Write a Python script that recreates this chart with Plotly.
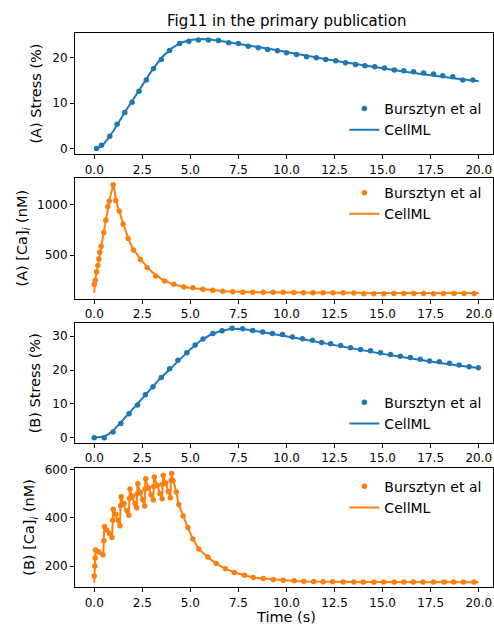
import plotly.graph_objects as go

# ---------------- data ----------------
# (A) Stress
a_stress_dot_t = [0.12, 0.38, 0.81, 1.19, 1.59, 1.97, 2.33, 2.71, 3.09, 3.49, 3.92, 4.44, 4.92, 5.42,
                  5.94, 6.46, 6.99, 7.50, 8.01, 8.53, 9.02, 9.53, 10.0, 10.52, 11.04, 11.55, 12.04,
                  12.56, 13.07, 13.59, 14.08, 14.59, 15.09, 15.61, 16.1, 16.61, 17.13, 17.65, 18.13,
                  18.65, 19.17, 19.69]
a_stress_dot_v = [0.0, 0.7, 2.7, 5.3, 7.9, 10.2, 12.6, 15.1, 17.6, 19.6, 21.6, 23.1, 23.6, 23.9,
                  23.9, 23.8, 23.3, 23.1, 22.5, 22.2, 21.8, 21.5, 21.1, 20.7, 20.2, 20.0, 19.6,
                  19.3, 18.9, 18.5, 18.2, 18.0, 17.7, 17.3, 17.1, 16.9, 16.6, 16.4, 16.0,
                  15.8, 15.1, 15.1]
a_stress_line_t = [0, 0.25, 0.5, 0.75, 1, 1.25, 1.5, 1.75, 2, 2.5, 3, 3.5, 4, 4.5, 5, 5.5, 6, 6.5, 7,
                   8, 9, 10, 11, 12, 13, 14, 15, 16, 17, 18, 19, 20]
a_stress_line_v = [0, 0.2, 1.0, 2.3, 3.9, 5.7, 7.4, 9.0, 10.6, 13.9, 17.2, 20.0, 22.0, 23.3, 23.9,
                   24.1, 24.0, 23.7, 23.4, 22.7, 22.0, 21.2, 20.4, 19.7, 19.0, 18.3, 17.6, 17.0,
                   16.4, 15.8, 15.3, 14.8]

# (A) [Ca]i
a_ca_dot_t = [0.0, 0.05, 0.12, 0.19, 0.24, 0.29, 0.36, 0.50, 0.60, 0.71, 0.78, 0.98, 1.12, 1.30, 1.50,
              1.76, 2.04, 2.40, 2.76, 3.20, 3.66, 4.14, 4.66, 5.13, 5.65, 6.16, 6.68, 7.20, 7.72,
              8.24, 8.79, 9.31, 9.84, 10.39, 10.88, 11.38, 11.9, 12.43, 12.95, 13.5, 14.02, 14.54,
              15.06, 15.58, 16.1, 16.62, 17.13, 17.65, 18.17, 18.72, 19.24, 19.76]
a_ca_dot_v = [211, 253, 335, 399, 464, 529, 588, 724, 844, 980, 1032, 1195, 1039, 935, 805,
              666, 552, 458, 377, 296, 247, 214, 188, 179, 166, 156, 146, 140, 136,
              136, 136, 136, 136, 133, 130, 130, 130, 130, 130, 127, 120, 120,
              120, 123, 123, 123, 123, 120, 123, 123, 123, 123]
a_ca_line_t = [0, 0.05, 0.2, 0.4, 0.6, 0.8, 1.0, 1.1, 1.25, 1.5, 1.75, 2.0, 2.5, 3.0, 3.5, 4.0, 4.5,
               5.0, 6.0, 7.0, 8.0, 10, 12, 15, 20]
a_ca_line_v = [130, 250, 410, 620, 830, 1050, 1205, 1080, 960, 810, 675, 565, 440, 335, 265, 220,
               195, 178, 158, 144, 137, 133, 130, 128, 127]

# (B) Stress
b_stress_dot_t = [0.0, 0.52, 0.98, 1.38, 1.81, 2.25, 2.66, 3.06, 3.49, 3.92, 4.35, 4.82, 5.25, 5.66,
                  6.17, 6.65, 7.17, 7.72, 8.24, 8.76, 9.27, 9.79, 10.31, 10.83, 11.35, 11.83, 12.3,
                  12.82, 13.33, 13.85, 14.37, 14.89, 15.41, 15.92, 16.44, 16.96, 17.44, 17.95,
                  18.48, 18.98, 19.5, 19.98]
b_stress_dot_v = [0.0, 0.0, 1.75, 4.2, 7.1, 9.7, 12.7, 15.1, 17.8, 20.4, 22.9, 25.1, 27.4, 29.2,
                  30.8, 31.6, 32.4, 32.2, 31.7, 31.3, 30.8, 30.5, 29.8, 29.3, 28.8, 28.2, 27.8,
                  27.3, 26.6, 26.1, 25.7, 25.1, 24.6, 24.1, 23.7, 23.2, 22.7, 22.5,
                  22.0, 21.5, 21.0, 20.7]
b_stress_line_t = [0, 0.25, 0.5, 0.75, 1, 1.5, 2, 2.5, 3, 3.5, 4, 4.5, 5, 5.5, 6, 6.5, 7, 7.5, 8, 9,
                   10, 11, 12, 13, 14, 15, 16, 17, 18, 19, 20]
b_stress_line_v = [0, 0.1, 0.4, 1.1, 2.2, 5.3, 8.5, 11.9, 15.0, 18.0, 20.6, 23.4, 26.2, 28.6, 30.3,
                   31.4, 32.1, 32.2, 31.9, 31.0, 30.1, 29.0, 27.9, 26.8, 25.8, 24.8, 23.9, 22.9,
                   22.1, 21.3, 20.6]

# (B) [Ca]i
b_ca_dot_t = [0.00, 0.03, 0.05, 0.07, 0.25, 0.45,
              0.50, 0.53, 0.65, 0.80, 0.92,
              0.96, 0.99, 1.12, 1.25, 1.34,
              1.37, 1.40, 1.55, 1.70, 1.80,
              1.83, 1.86, 2.00, 2.12, 2.21,
              2.24, 2.27, 2.40, 2.52, 2.62,
              2.65, 2.68, 2.82, 2.96, 3.07,
              3.10, 3.13, 3.28, 3.42, 3.53,
              3.56, 3.59, 3.72, 3.85, 3.96,
              4.00, 4.03, 4.10, 4.27, 4.40, 4.62, 4.87, 5.13, 5.44, 5.91, 6.34, 6.82, 7.29,
              7.81, 8.27, 8.79, 9.31, 9.84, 10.4, 10.9, 11.4, 11.9, 12.4, 12.95, 13.5, 14.0,
              14.55, 15.05, 15.6, 16.1, 16.6, 17.1, 17.65, 18.2, 18.7, 19.2, 19.75]
b_ca_dot_v = [159, 200, 233, 267, 258, 247,
              305, 364, 350, 335, 318,
              390, 436, 415, 390, 367,
              450, 488, 460, 430, 411,
              480, 520, 490, 460, 442,
              500, 542, 505, 475, 449,
              520, 562, 525, 495, 474,
              530, 570, 535, 500, 479,
              540, 577, 545, 510, 484,
              555, 584, 555, 508, 456, 408, 360, 312, 271, 237, 210, 189, 173,
              162, 152, 148, 144, 141, 139, 137, 136, 135, 135, 134, 134, 134,
              134, 134, 134, 134, 134, 134, 134, 134, 134, 134, 134]
b_ca_line_t = [0.0, 0.07, 0.25, 0.47, 0.52, 0.70, 0.93, 0.98, 1.15, 1.34, 1.38, 1.60, 1.80, 1.85,
               2.05, 2.21, 2.25, 2.45, 2.62, 2.66, 2.90, 3.07, 3.11, 3.35, 3.53, 3.58, 3.80, 3.96,
               4.01, 4.09, 4.27, 4.39, 4.61, 4.87, 5.13, 5.44, 5.91, 6.34, 6.82, 7.29, 7.81, 8.27,
               8.79, 9.31, 9.91, 10.43, 11.0, 12.0, 14.0, 20.0]
b_ca_line_v = [130, 267, 255, 244, 367, 340, 315, 436, 400, 367, 488, 440, 411, 520,
               470, 442, 542, 490, 449, 562, 505, 474, 570, 515, 479, 577, 520, 484,
               584, 559, 508, 456, 408, 360, 312, 271, 237, 210, 189, 173, 162, 152,
               148, 144, 141, 138, 136, 135, 134, 133]

x_ticks = [0, 2.5, 5, 7.5, 10, 12.5, 15, 17.5, 20]
x_tick_labels = ["0.0", "2.5", "5.0", "7.5", "10.0", "12.5", "15.0", "17.5", "20.0"]

title_text = "Fig11 in the primary publication"
series_names = ["Bursztyn et al", "CellML"]
y_titles = ["(A) Stress (%)", "(A) [Ca]<sub><i>i</i></sub> (nM)",
            "(B) Stress (%)", "(B) [Ca]<sub><i>i</i></sub> (nM)"]
x_title = "Time (s)"

# ---------------- figure ----------------
W, H = 494, 630
ML = 75
BLUE, ORANGE = "#1f77b4", "#ff7f0e"
FONT = "DejaVu Sans"

panels = [
    dict(dt=a_stress_dot_t, dv=a_stress_dot_v, lt=a_stress_line_t, lv=a_stress_line_v, c=BLUE,
         top=28, bot=151, yr=[-1.3, 25.5], yt=[0, 10, 20], leg_y=89, ytx=35),
    dict(dt=a_ca_dot_t, dv=a_ca_dot_v, lt=a_ca_line_t, lv=a_ca_line_v, c=ORANGE,
         top=175, bot=297, yr=[72, 1260], yt=[500, 1000], leg_y=174, ytx=23),
    dict(dt=b_stress_dot_t, dv=b_stress_dot_v, lt=b_stress_line_t, lv=b_stress_line_v, c=BLUE,
         top=322, bot=443, yr=[-1.55, 33.8], yt=[0, 10, 20, 30], leg_y=386, ytx=35),
    dict(dt=b_ca_dot_t, dv=b_ca_dot_v, lt=b_ca_line_t, lv=b_ca_line_v, c=ORANGE,
         top=468, bot=589, yr=[111, 608], yt=[200, 400, 600], leg_y=471, ytx=30),
]

fig = go.Figure()
layout = dict(
    width=W, height=H,
    margin=dict(l=ML, r=0, t=0, b=0),
    paper_bgcolor="white", plot_bgcolor="white",
    font=dict(family=FONT, color="black", size=12),
    annotations=[],
)

def px_to_paper_x(px):
    return (px - ML) / (W - ML)

for i, p in enumerate(panels, start=1):
    sfx = "" if i == 1 else str(i)
    legname = "legend" + sfx
    fig.add_trace(go.Scatter(x=p["dt"], y=p["dv"], mode="markers", name=series_names[0],
                             marker=dict(color=p["c"], size=5.5),
                             xaxis="x" + sfx, yaxis="y" + sfx, legend=legname))
    fig.add_trace(go.Scatter(x=p["lt"], y=p["lv"], mode="lines", name=series_names[1],
                             line=dict(color=p["c"], width=2),
                             xaxis="x" + sfx, yaxis="y" + sfx, legend=legname))
    layout["xaxis" + sfx] = dict(
        domain=[0, 1], range=[-1.0, 20.74], anchor="y" + sfx,
        tickmode="array", tickvals=x_ticks, ticktext=x_tick_labels,
        ticks="outside", ticklen=4, tickwidth=1, tickcolor="black",
        showline=True, linecolor="black", linewidth=1, mirror=True,
        showgrid=False, zeroline=False, tickfont=dict(size=12, family=FONT),
    )
    layout["yaxis" + sfx] = dict(
        domain=[1 - p["bot"] / H, 1 - p["top"] / H], range=p["yr"], anchor="x" + sfx,
        tickmode="array", tickvals=p["yt"],
        ticks="outside", ticklen=4, tickwidth=1, tickcolor="black",
        showline=True, linecolor="black", linewidth=1, mirror=True,
        showgrid=False, zeroline=False, tickfont=dict(size=12, family=FONT),
    )
    layout[legname] = dict(
        x=px_to_paper_x(345), y=1 - p["leg_y"] / H, xanchor="left", yanchor="top",
        xref="paper", yref="paper", bgcolor="rgba(0,0,0,0)",
        font=dict(size=14, family=FONT), tracegroupgap=0,
    )
    layout["annotations"].append(dict(
        text=y_titles[i - 1], xref="paper", yref="paper",
        x=px_to_paper_x(p["ytx"]), y=1 - ((p["top"] + p["bot"]) / 2) / H,
        xanchor="center", yanchor="middle", textangle=-90, showarrow=False,
        font=dict(size=14.5, family=FONT)))

layout["annotations"].append(dict(
    text=x_title, xref="paper", yref="paper", x=px_to_paper_x(287), y=1 - 619 / H,
    xanchor="center", yanchor="middle", showarrow=False, font=dict(size=14.5, family=FONT)))
layout["annotations"].append(dict(
    text=title_text, xref="paper", yref="paper", x=px_to_paper_x(287), y=1 - 16 / H,
    xanchor="center", yanchor="middle", showarrow=False, font=dict(size=15, family=FONT)))

fig.update_layout(**layout)
fig.write_html("out.html")
